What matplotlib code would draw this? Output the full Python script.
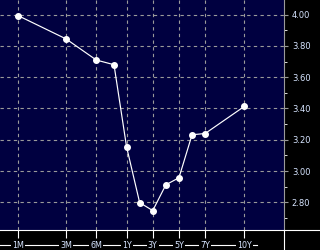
import numpy as np
import matplotlib
matplotlib.use("Agg")
import matplotlib.pyplot as plt
from matplotlib.lines import Line2D
from matplotlib.ticker import MultipleLocator

# tenors in years, yields in %
tenors = [1 / 12, 0.25, 0.5, 0.75, 1, 2, 3, 4, 5, 6, 7, 10]
yields = [3.994, 3.845, 3.71, 3.68, 3.155, 2.798, 2.747, 2.912, 2.957, 3.232, 3.24, 3.414]

tick_tenors = [1 / 12, 0.25, 0.5, 1, 3, 5, 7, 10]
tick_labels = ["1M", "3M", "6M", "1Y", "3Y", "5Y", "7Y", "10Y"]

NAVY = "#000040"
TXT = "#d6e4ff"
K = 3.33  # log stretch below 1Y


# log spacing under one year, linear above
def fwd(t):
    t = np.asarray(t, dtype=float)
    return np.where(t <= 1, K * np.log(np.maximum(t, 1e-9)), t - 1)


def inv(u):
    u = np.asarray(u, dtype=float)
    return np.where(u <= 0, np.exp(np.minimum(u, 0) / K), u + 1)


fig = plt.figure(figsize=(3.2, 2.5), dpi=100, facecolor="black")
ax = fig.add_axes([0, 20.5 / 250, 283.5 / 320, 229.5 / 250])
ax.set_facecolor(NAVY)
ax.set_xscale("function", functions=(fwd, inv))

ax.plot(tenors, yields, color="white", lw=0.85, marker="o", ms=4,
        mfc="white", mec="white", zorder=3)

ax.set_xlim(float(inv(-9.66)), float(inv(11.98)))
ax.set_ylim(2.626, 4.094)

ax.set_xticks(tick_tenors)
ax.set_xticklabels(tick_labels)
ax.xaxis.set_minor_locator(plt.NullLocator())
ax.yaxis.set_major_locator(MultipleLocator(0.2))
ax.yaxis.set_minor_locator(MultipleLocator(0.1))
ax.yaxis.set_major_formatter(plt.FormatStrFormatter("%.2f"))

ax.grid(True, which="major", color="#9a9a9a", ls=(0, (3, 3)), lw=0.8)

for s in ["top", "left"]:
    ax.spines[s].set_visible(False)
ax.spines["right"].set_color("#9a9a9a")
ax.spines["bottom"].set_color("white")

ax.yaxis.tick_right()
ax.tick_params(axis="y", which="major", length=3, color="#9a9a9a",
               labelcolor=TXT, labelsize=6, pad=3)
ax.tick_params(axis="y", which="minor", length=2, color="white")
ax.tick_params(axis="x", length=6, color="white", labelcolor=TXT,
               labelsize=5.8, pad=2.2)
for lab in ax.get_xticklabels():
    lab.set_bbox(dict(facecolor="black", edgecolor="none", pad=0.8))

# white rule through the x labels and frame lines of the lower strip
fig.add_artist(Line2D([0, 257 / 320], [5.5 / 250, 5.5 / 250], color="white", lw=0.8, zorder=0))
fig.add_artist(Line2D([283.5 / 320, 1], [20.5 / 250, 20.5 / 250], color="white", lw=0.8))
fig.add_artist(Line2D([283.5 / 320, 283.5 / 320], [0, 20.5 / 250], color="white", lw=0.8))

fig.savefig("out.png", dpi=100, facecolor="black")
